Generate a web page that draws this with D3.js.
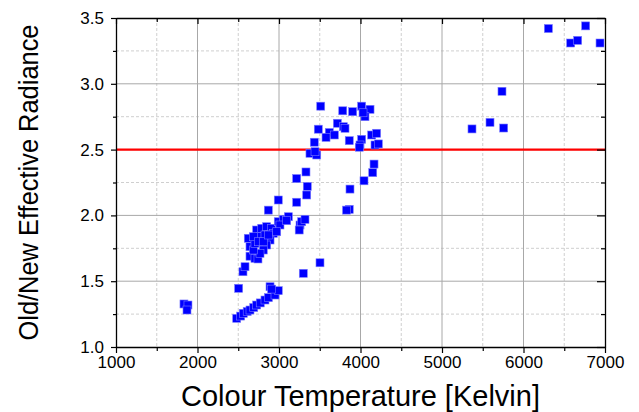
<!DOCTYPE html>
<html>
<head>
<meta charset="utf-8">
<script src="https://cdn.jsdelivr.net/npm/d3@7"></script>
<style>
  html, body { margin: 0; padding: 0; background: #fff; }
  svg { display: block; }
  text { font-family: "Liberation Sans", Arial, sans-serif; fill: #000; }
</style>
</head>
<body>
<svg id="chart" width="639" height="412"></svg>
<script>
// ---- Data ----
const temperatureK = [
  1834, 1883, 1871,
  2481, 2530, 2562, 2610, 2644, 2690, 2726, 2770, 2828, 2870, 2951, 2991, 2890, 2910, 2505,
  2558, 2583,
  2623, 2644, 2644, 2705, 2742, 2726, 2788, 2849, 2910, 2930, 2890, 2849, 2807, 2767, 2685,
  2705, 2767, 2828, 2685, 2746, 2807, 2869,
  2991, 3053, 3115, 3012, 2972, 3094,
  2869, 2991,
  3258, 3248, 3278, 3319,
  3217, 3217, 3331, 3347, 3340,
  3298, 3503,
  3512, 3782, 3904, 4014, 4117, 4055, 4031, 3716, 3790, 3810, 3482, 3617, 3577, 3679,
  3862, 4014, 4137, 4198, 3433, 3994, 3985, 4178, 4219, 3380, 3463, 3442,
  4166, 4150, 4043, 3871, 3862, 3829,
  5368, 5589, 5757, 5736,
  6305, 6763, 6579, 6665, 6939
];
const radianceRatio = [
  1.327, 1.319, 1.281,
  1.218, 1.235, 1.256, 1.270, 1.281, 1.300, 1.319, 1.335, 1.357, 1.375, 1.395, 1.428, 1.458, 1.440, 1.446,
  1.572, 1.610,
  1.826, 1.762, 1.690, 1.674, 1.669, 1.889, 1.902, 1.914, 1.902, 1.864, 1.813, 1.775, 1.737, 1.712, 1.737,
  1.788, 1.838, 1.851, 1.838, 1.800, 1.800, 1.851,
  1.952, 1.970, 1.990, 1.927, 1.876, 1.960,
  2.040, 2.117,
  1.927, 1.889, 1.952, 1.970,
  2.100, 2.280, 2.330, 2.220, 2.155,
  1.560, 1.640,
  2.830, 2.795, 2.788, 2.830, 2.806, 2.750, 2.780, 2.700, 2.674, 2.662, 2.655, 2.630, 2.593, 2.611,
  2.568, 2.578, 2.611, 2.624, 2.556, 2.535, 2.518, 2.535, 2.543, 2.472, 2.459, 2.484,
  2.390, 2.325, 2.263, 2.200, 2.046, 2.040,
  2.657, 2.707, 2.664, 2.943,
  3.420, 3.440, 3.310, 3.330, 3.310
];
const xMajorTicks = [1000, 2000, 3000, 4000, 5000, 6000, 7000];
const xMinorTicks = [1500, 2500, 3500, 4500, 5500, 6500];
const yMajorTicks = [1.0, 1.5, 2.0, 2.5, 3.0, 3.5];
const yMinorTicks = [1.25, 1.75, 2.25, 2.75, 3.25];
const thresholdValue = [2.5];
const xTitle = "Colour Temperature [Kelvin]";
const yTitle = "Old/New Effective Radiance";

// ---- Layout ----
const svg = d3.select("#chart");
const L = 116, R = 605, T = 18, B = 347;
const x = d3.scaleLinear().domain([1000, 7000]).range([L, R]);
const y = d3.scaleLinear().domain([1.0, 3.5]).range([B, T]);

// Gridlines
const grid = svg.append("g");
grid.selectAll(".gxm").data(xMinorTicks).join("line")
  .attr("x1", d => x(d)).attr("x2", d => x(d)).attr("y1", T).attr("y2", B)
  .attr("stroke", "#cfcfcf").attr("stroke-width", 1).attr("stroke-dasharray", "3,2");
grid.selectAll(".gym").data(yMinorTicks).join("line")
  .attr("x1", L).attr("x2", R).attr("y1", d => y(d)).attr("y2", d => y(d))
  .attr("stroke", "#cfcfcf").attr("stroke-width", 1).attr("stroke-dasharray", "3,2");
grid.selectAll(".gxM").data(xMajorTicks.slice(1, -1)).join("line")
  .attr("x1", d => x(d)).attr("x2", d => x(d)).attr("y1", T).attr("y2", B)
  .attr("stroke", "#a8a8a8").attr("stroke-width", 1);
grid.selectAll(".gyM").data(yMajorTicks.slice(1, -1)).join("line")
  .attr("x1", L).attr("x2", R).attr("y1", d => y(d)).attr("y2", d => y(d))
  .attr("stroke", "#a8a8a8").attr("stroke-width", 1);

// Threshold line
svg.selectAll(".thr").data(thresholdValue).join("line")
  .attr("x1", L).attr("x2", R + 1).attr("y1", d => y(d)).attr("y2", d => y(d))
  .attr("stroke", "#ff0000").attr("stroke-width", 2.2);

// Axes
function styleAxis(g) {
  g.select(".domain").attr("stroke", "#000").attr("stroke-width", 1.3);
  g.selectAll(".tick line").attr("stroke", "#000").attr("stroke-width", 1.2);
  g.selectAll("text").attr("font-size", "17px").attr("fill", "#000")
    .attr("font-family", '"Liberation Sans", Arial, sans-serif');
}
// bottom
svg.append("g").attr("transform", `translate(0,${B})`)
  .call(d3.axisBottom(x).tickValues(xMajorTicks).tickSize(6).tickSizeOuter(0).tickPadding(3).tickFormat(d3.format("d")))
  .call(styleAxis);
svg.append("g").attr("transform", `translate(0,${B})`)
  .call(d3.axisBottom(x).tickValues(xMinorTicks).tickSize(4).tickSizeOuter(0).tickFormat(""))
  .call(g => g.select(".domain").remove()).call(styleAxis);
// left
svg.append("g").attr("transform", `translate(${L},0)`)
  .call(d3.axisLeft(y).tickValues(yMajorTicks).tickSize(5).tickSizeOuter(0).tickPadding(7).tickFormat(d3.format(".1f")))
  .call(styleAxis);
svg.append("g").attr("transform", `translate(${L},0)`)
  .call(d3.axisLeft(y).tickValues(yMinorTicks).tickSize(3).tickSizeOuter(0).tickFormat(""))
  .call(g => g.select(".domain").remove()).call(styleAxis);
// top (inward ticks)
svg.append("g").attr("transform", `translate(0,${T})`)
  .call(d3.axisTop(x).tickValues(xMajorTicks).tickSize(-6).tickSizeOuter(0).tickFormat(""))
  .call(styleAxis);
svg.append("g").attr("transform", `translate(0,${T})`)
  .call(d3.axisTop(x).tickValues(xMinorTicks).tickSize(-4).tickSizeOuter(0).tickFormat(""))
  .call(g => g.select(".domain").remove()).call(styleAxis);
// right (inward ticks)
svg.append("g").attr("transform", `translate(${R},0)`)
  .call(d3.axisRight(y).tickValues(yMajorTicks).tickSize(-8).tickSizeOuter(0).tickFormat(""))
  .call(styleAxis);
svg.append("g").attr("transform", `translate(${R},0)`)
  .call(d3.axisRight(y).tickValues(yMinorTicks).tickSize(-4).tickSizeOuter(0).tickFormat(""))
  .call(g => g.select(".domain").remove()).call(styleAxis);

// Points
const pts = temperatureK.map((t, i) => ({ t, r: radianceRatio[i] }));
const S = 8;
svg.append("g").selectAll("rect").data(pts).join("rect")
  .attr("x", d => x(d.t) - S / 2).attr("y", d => y(d.r) - S / 2)
  .attr("width", S).attr("height", S)
  .attr("fill", "#0000ff").attr("stroke", "#7a7aff").attr("stroke-width", 0.6);

// Titles
svg.append("text").attr("x", (L + R) / 2).attr("y", 406)
  .attr("text-anchor", "middle").attr("font-size", "29px").text(xTitle);
svg.append("text").attr("transform", `translate(38,${(T + B) / 2}) rotate(-90)`)
  .attr("text-anchor", "middle").attr("font-size", "27px")
  .attr("textLength", 316).attr("lengthAdjust", "spacingAndGlyphs").text(yTitle);
</script>
</body>
</html>
